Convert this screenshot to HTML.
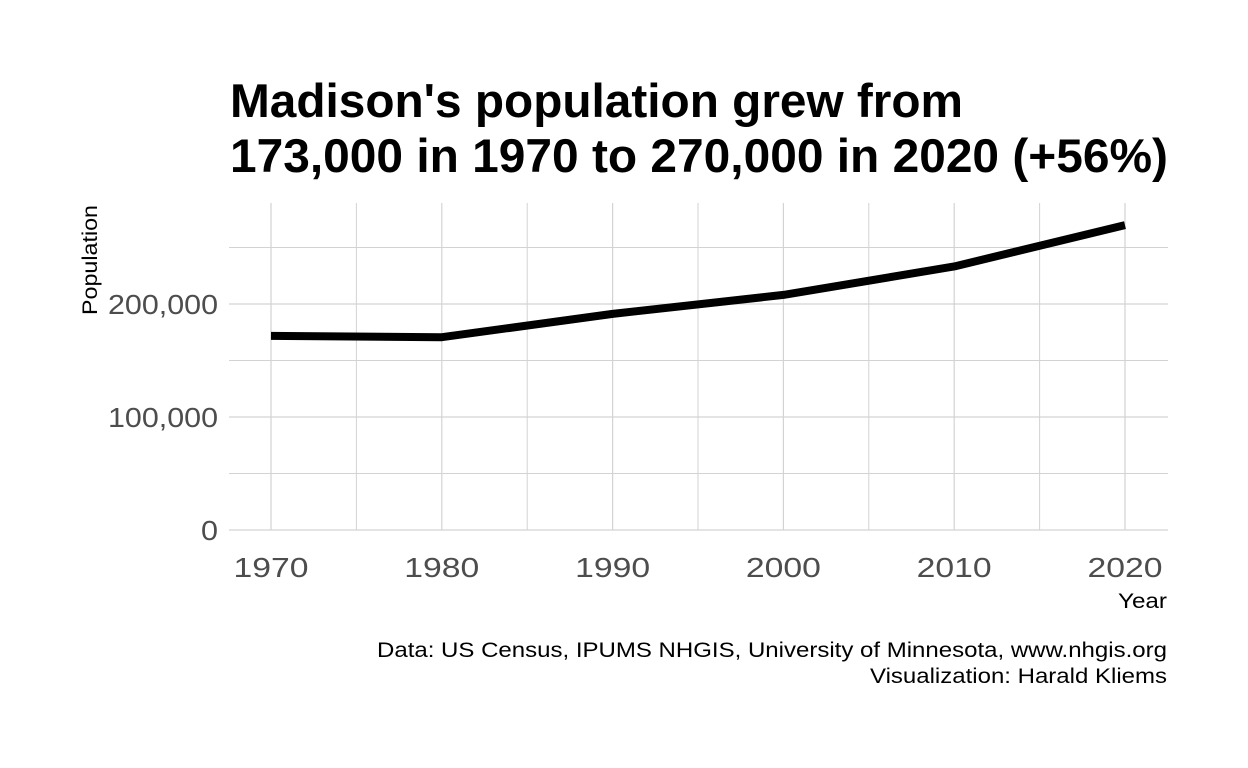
<!DOCTYPE html>
<html><head><meta charset="utf-8"><style>
body{margin:0;background:#fff;}
svg{display:block;font-family:"Liberation Sans",sans-serif;}
</style></head><body>
<svg id="chart" width="1248" height="768">
<text x="230" y="117" font-size="47" font-weight="bold" fill="#000" textLength="733" lengthAdjust="spacingAndGlyphs">Madison's population grew from</text>
<text x="230" y="172" font-size="47" font-weight="bold" fill="#000" textLength="938" lengthAdjust="spacingAndGlyphs">173,000 in 1970 to 270,000 in 2020 (+56%)</text>
<g id="grid"></g>
<g id="axes"></g>
<path id="line" fill="none" stroke="#000" stroke-width="8" stroke-linejoin="round"></path>
<text transform="translate(97,205) rotate(-90)" text-anchor="end" font-size="21" fill="#000" textLength="110" lengthAdjust="spacingAndGlyphs">Population</text>
<text x="1167" y="608" text-anchor="end" font-size="21" fill="#000" textLength="49" lengthAdjust="spacingAndGlyphs">Year</text>
<text x="1167" y="657" text-anchor="end" font-size="21" fill="#000" textLength="790" lengthAdjust="spacingAndGlyphs">Data: US Census, IPUMS NHGIS, University of Minnesota, www.nhgis.org</text>
<text x="1167" y="683" text-anchor="end" font-size="21" fill="#000" textLength="297" lengthAdjust="spacingAndGlyphs">Visualization: Harald Kliems</text>
</svg>
<script>
const years=[1970,1980,1990,2000,2010,2020];
const population=[171809,170616,191262,208054,233209,269840];
const xTicks=[1970,1980,1990,2000,2010,2020];
const yTicks=[0,100000,200000];
const yTickLabels=["0","100,000","200,000"];
const ns="http://www.w3.org/2000/svg";
const px0=229,px1=1168,py0=530,py1=203;
const x=v=>271+(v-1970)*(1125-271)/50;
const y=v=>530-v*113/100000;
const grid=document.getElementById('grid'),axes=document.getElementById('axes');
function ln(g,x1,y1,x2,y2,w,name){const l=document.createElementNS(ns,'line');
l.setAttribute('x1',x1);l.setAttribute('y1',y1);l.setAttribute('x2',x2);l.setAttribute('y2',y2);
l.setAttribute('stroke','#d3d3d3');l.setAttribute('stroke-width',w);


g.appendChild(l);}
for(let v=50000;v<290000;v+=100000)ln(grid,px0,y(v),px1,y(v),1,'minor-gridline-y');
for(let v=1975;v<2025;v+=10)ln(grid,x(v),py0,x(v),py1,1,'minor-gridline-x');
yTicks.forEach((v,i)=>{ln(grid,px0,y(v),px1,y(v),1.2,'major-gridline-y');
const t=document.createElementNS(ns,'text');t.setAttribute('x',218);t.setAttribute('y',y(v)+10);
t.setAttribute('text-anchor','end');t.setAttribute('font-size','28');t.setAttribute('fill','#4d4d4d');
t.setAttribute('textLength',yTickLabels[i].length>1?110:17);t.setAttribute('lengthAdjust','spacingAndGlyphs');
t.textContent=yTickLabels[i];


axes.appendChild(t);});
xTicks.forEach(v=>{ln(grid,x(v),py0,x(v),py1,1.2,'major-gridline-x');
const t=document.createElementNS(ns,'text');t.setAttribute('x',x(v));t.setAttribute('y',577);
t.setAttribute('text-anchor','middle');t.setAttribute('font-size','28');t.setAttribute('fill','#4d4d4d');
t.setAttribute('textLength',75);t.setAttribute('lengthAdjust','spacingAndGlyphs');
t.textContent=v;


axes.appendChild(t);});
document.getElementById('line').setAttribute('d',years.map((yr,i)=>(i?'L':'M')+x(yr)+','+y(population[i])).join(' '));
</script>
</body></html>
